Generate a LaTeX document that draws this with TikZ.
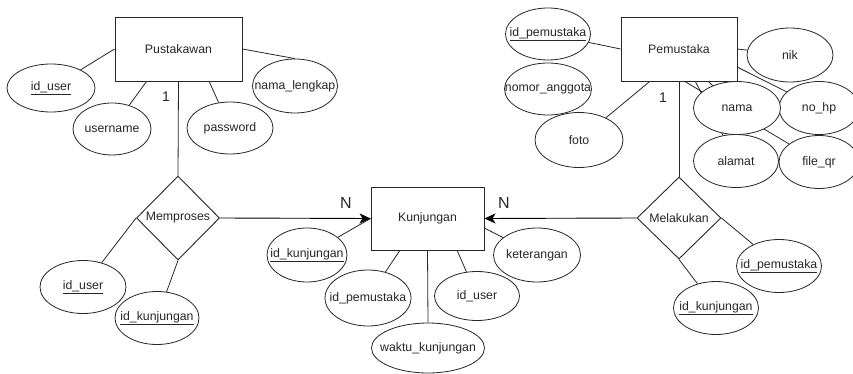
\documentclass[tikz,border=0pt]{standalone}
\usepackage{fontspec}
\setmainfont{Liberation Sans}
\usetikzlibrary{shapes.geometric,arrows.meta,calc,backgrounds}
\definecolor{lc}{gray}{0.15}
\tikzset{
  ent/.style={draw=lc, fill=white, rectangle, inner sep=0pt, line width=0.9pt},
  attr/.style={draw=lc, fill=white, ellipse, inner sep=0pt, line width=0.8pt},
  rel/.style={draw=lc, fill=white, diamond, inner sep=0pt, line width=0.9pt},
  conn/.style={draw=lc, line width=0.8pt},
  arr/.style={draw=black, line width=0.9pt, -{Stealth[length=11pt,width=10pt,inset=3pt]}},
  card/.style={font=\fontsize{16}{18}\selectfont},
  one/.style={font=\fontsize{14}{16}\selectfont}
}
\begin{document}
\begin{tikzpicture}[x=1pt,y=-1pt,font=\fontsize{12.3}{15}\selectfont, text=lc]
\useasboundingbox (0,0) rectangle (853,374);
\clip (0,0) rectangle (853,374);
% entities
\node[ent, minimum width=127pt, minimum height=64pt] (P) at (178.5,49) {Pustakawan};
\node[ent, minimum width=116pt, minimum height=64pt] (Pm) at (679,49) {Pemustaka};
\node[ent, minimum width=113pt, minimum height=63pt] (K) at (427.5,218.5) {Kunjungan};
% relationships
\node[rel, minimum width=83pt, minimum height=84pt, label=center:Memproses] (M) at (178,218) {};
\node[rel, minimum width=84pt, minimum height=82pt, label=center:Melakukan] (L) at (679,218) {};
% Pustakawan attributes
\node[attr, minimum width=88pt, minimum height=48pt, label=center:\underline{id\_user}] (a1) at (51,88) {};
\node[attr, minimum width=78pt, minimum height=52pt, label=center:username] (a2) at (112,129) {};
\node[attr, minimum width=86pt, minimum height=52pt, label=center:password] (a3) at (230,128) {};
\node[attr, minimum width=85pt, minimum height=54pt, label=center:nama\_lengkap] (a4) at (295,86) {};
% Pemustaka attributes
\node[attr, minimum width=85pt, minimum height=52pt, label=center:\underline{id\_pemustaka}] (b1) at (548,34) {};
\node[attr, minimum width=87pt, minimum height=52pt, label=center:nomor\_anggota] (b2) at (548,89) {};
\node[attr, minimum width=88pt, minimum height=55pt, label=center:foto] (b3) at (579,140) {};
\node[attr, minimum width=86pt, minimum height=54pt, label=center:nik] (b4) at (790,55) {};
\node[attr, minimum width=80pt, minimum height=53pt, label=center:no\_hp] (b5) at (819,108) {};
\node[attr, minimum width=87pt, minimum height=53pt, label=center:nama] (b6) at (737,108) {};
\node[attr, minimum width=85pt, minimum height=53pt, label=center:alamat] (b7) at (736,161) {};
\node[attr, minimum width=80pt, minimum height=53pt, label=center:file\_qr] (b8) at (819,162) {};
% Memproses attributes
\node[attr, minimum width=86pt, minimum height=53pt, label=center:\underline{id\_user}] (c1) at (83,287) {};
\node[attr, minimum width=84pt, minimum height=53pt, label=center:\underline{id\_kunjungan}] (c2) at (157,318) {};
% Kunjungan attributes
\node[attr, minimum width=80pt, minimum height=54pt, label=center:\underline{id\_kunjungan}] (k1) at (307,255) {};
\node[attr, minimum width=86pt, minimum height=56pt, label=center:id\_pemustaka] (k2) at (368,298) {};
\node[attr, minimum width=113pt, minimum height=50pt, label=center:waktu\_kunjungan] (k3) at (428,348) {};
\node[attr, minimum width=85pt, minimum height=49pt, label=center:id\_user] (k4) at (477,296) {};
\node[attr, minimum width=87pt, minimum height=54pt, label=center:keterangan] (k5) at (537,255) {};
% Melakukan attributes
\node[attr, minimum width=85pt, minimum height=53pt, label=center:\underline{id\_pemustaka}] (d1) at (779,266) {};
\node[attr, minimum width=85pt, minimum height=53pt, label=center:\underline{id\_kunjungan}] (d2) at (716,308) {};
% cardinality labels
\node[one] (o1) at (166,97) {1};
\node[one] (o2) at (663,98) {1};
\node[card] (n1) at (346,203) {N};
\node[card] (n2) at (504,203) {N};
\begin{scope}[on background layer]
\draw[conn] (P.west) -- (a1);
\draw[conn] ($(P.south west)!0.25!(P.south east)$) -- (a2);
\draw[conn] ($(P.south west)!0.74!(P.south east)$) -- (a3);
\draw[conn] (P.east) -- (a4.north);
\draw[conn] (P.south) -- (M.north);
\draw[conn] (M.west) -- (c1);
\draw[conn] (M.south) -- (c2);
\draw[conn] (K.west) -- (k1);
\draw[conn] ($(K.south west)!0.257!(K.south east)$) -- (k2);
\draw[conn] (K.south) -- (k3.north);
\draw[conn] ($(K.south west)!0.76!(K.south east)$) -- (k4);
\draw[conn] ($(K.north east)!0.65!(K.south east)$) -- (k5);
\draw[conn] (Pm.south) -- (L.north);
\draw[conn] (L.east) -- (d1);
\draw[conn] (L.south) -- (d2);
\draw[conn] (Pm.west) -- (b1);
\draw[conn] ($(Pm.south west)!0.25!(Pm.south east)$) -- (b3);
\draw[conn] (Pm.east) -- (b4);
\draw[conn] ($(Pm.north east)!0.78!(Pm.south east)$) -- (b5);
\draw[conn] ($(Pm.south west)!0.75!(Pm.south east)$) -- (b6);
\draw[conn] ($(Pm.south west)!0.64!(Pm.south east)$) -- (b7);
\draw[conn] ($(Pm.south west)!0.55!(Pm.south east)$) -- (b8);
\end{scope}
\draw[arr] (M.east) -- (K.west);
\draw[arr] (L.west) -- (K.east);
\end{tikzpicture}
\end{document}
